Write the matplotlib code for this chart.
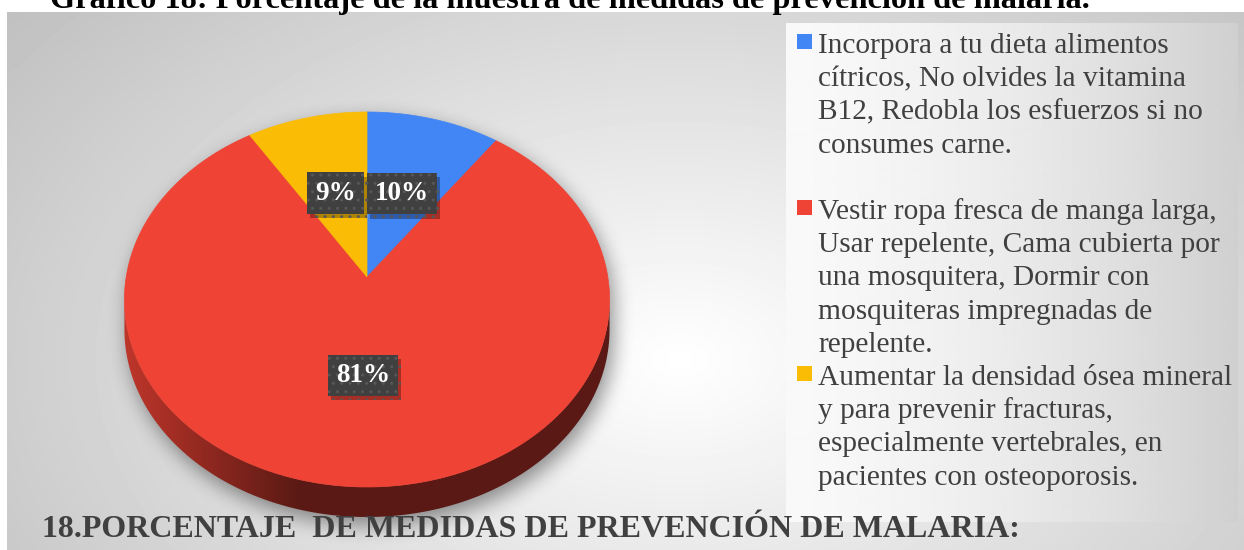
import numpy as np
import matplotlib.pyplot as plt
from matplotlib.patches import Polygon, Rectangle
from matplotlib import patheffects as pe

plt.rcParams['font.family'] = ['Liberation Serif', 'DejaVu Serif']

# datos del grafico
titulo = 'Gráfico 18: Porcentaje de la muestra de medidas de prevención de malaria.'
subtitulo = '18.PORCENTAJE  DE MEDIDAS DE PREVENCIÓN DE MALARIA:'
categorias = [
    'Incorpora a tu dieta alimentos\ncítricos, No olvides la vitamina\nB12, Redobla los esfuerzos si no\nconsumes carne.',
    'Vestir ropa fresca de manga larga,\nUsar repelente, Cama cubierta por\nuna mosquitera, Dormir con\nmosquiteras impregnadas de\nrepelente.',
    'Aumentar la densidad ósea mineral\ny para prevenir fracturas,\nespecialmente vertebrales, en\npacientes con osteoporosis.',
]
porcentajes = [10, 81, 9]
colores = ['#4285F4', '#EE4335', '#FBBC05']

W, H = 1244, 550
fig = plt.figure(figsize=(W / 100, H / 100), dpi=100)
ax = fig.add_axes([0, 0, 1, 1])

yy, xx = np.mgrid[0:H, 0:W] + 0.5

# fondo con degradado radial
d = np.sqrt(((xx - 680) / 800) ** 2 + ((yy - 360) / 520) ** 2)
fondo = 1 - 0.23 * np.clip(d, 0, 1.3)
fondo[(yy < 12) | (xx < 7)] = 1
ax.imshow(fondo, cmap='gray', vmin=0, vmax=1, extent=(0, W, H, 0), zorder=0,
          interpolation='bilinear')

# caja de la leyenda
t = np.linspace(0, 1, 452)
caja = np.tile(0.975 - 0.16 * t ** 1.5, (10, 1))
ax.imshow(caja, cmap='gray', vmin=0, vmax=1, extent=(786, 1238, 522, 23),
          zorder=0.5, aspect='auto', interpolation='bilinear')

# geometria del pastel en perspectiva
cx, cy = 367, 277
A, B, k = 240.8, -184.8, 0.12
grosor = 30


def proj(u, v):
    den = 1 + k * v
    return cx + A * u / den, cy + B * v / den


def dentro(X, Y):
    Xr, Yr = X - cx, Y - cy
    v = Yr / (B - k * Yr)
    u = Xr * (1 + k * v) / A
    return u ** 2 + v ** 2 <= 1


def desenfocar(a, r):
    for eje in (0, 1):
        for _ in range(3):
            a = np.swapaxes(a, 0, eje)
            p = np.pad(a, ((r + 1, r), (0, 0)), mode='edge')
            c = np.cumsum(p, axis=0)
            a = (c[2 * r + 1:] - c[:-2 * r - 1]) / (2 * r + 1)
            a = np.swapaxes(a, 0, eje)
    return a


# sombra
ox, oy = 4, 8
masc = np.zeros((H, W))
for s in np.linspace(0, grosor, 4):
    masc = np.maximum(masc, dentro(xx - ox, yy - oy - s))
sombra = desenfocar(masc, 9)
rgba = np.zeros((H, W, 4))
rgba[..., 3] = 0.42 * sombra
ax.imshow(rgba, extent=(0, W, H, 0), zorder=1)

frac = np.array(porcentajes) / sum(porcentajes)
bordes = 90 - 360 * np.concatenate([[0], np.cumsum(frac)])

# lateral visible
thL = 180 + np.degrees(np.arcsin(k))
thR = 360 - np.degrees(np.arcsin(k))
luz = 0.38 + 0.42 * np.clip((300 - xx) / 175, 0, 1)
for i in range(len(porcentajes)):
    lo, hi = min(bordes[i], bordes[i + 1]), max(bordes[i], bordes[i + 1])
    for sh in (-360, 0, 360):
        a, b = max(lo, thL + sh), min(hi, thR + sh)
        if a >= b:
            continue
        th = np.radians(np.linspace(a, b, 200))
        px, py = proj(np.cos(th), np.sin(th))
        pts = np.column_stack([np.r_[px, px[::-1]], np.r_[py, py[::-1] + grosor]])
        poly = Polygon(pts, closed=True, fc='none', ec='none', zorder=2)
        ax.add_patch(poly)
        base = np.array(plt.matplotlib.colors.to_rgb(colores[i]))
        img = luz[..., None] * base[None, None, :]
        im = ax.imshow(img, extent=(0, W, H, 0), zorder=2)
        im.set_clip_path(poly)

# cara superior
for i in range(len(porcentajes)):
    th = np.radians(np.linspace(bordes[i], bordes[i + 1], 300))
    px, py = proj(np.cos(th), np.sin(th))
    pts = np.column_stack([np.r_[cx, px], np.r_[cy, py]])
    ax.add_patch(Polygon(pts, closed=True, fc=colores[i], ec=colores[i], lw=0.5, zorder=3))

# etiquetas de porcentaje
for i, p in enumerate(porcentajes):
    m = np.radians((bordes[i] + bordes[i + 1]) / 2)
    lx, ly = proj(0.5 * np.cos(m), 0.5 * np.sin(m))
    txt = ax.text(lx, ly, f'{p}%', ha='center', va='center', fontsize=19.5,
                  fontweight='bold', color='white', zorder=5,
                  bbox=dict(boxstyle='square,pad=0.3', fc='#404040', ec='#575757',
                            lw=0, hatch='..'))
    txt.get_bbox_patch().set_path_effects(
        [pe.SimplePatchShadow(offset=(2, -3), shadow_rgbFace='black', alpha=0.3),
         pe.Normal()])

# leyenda
inicio = [0, 5, 10]
for i, lab in enumerate(categorias):
    for j, linea in enumerate(lab.split('\n')):
        yb = 53 + (inicio[i] + j) * 33.2
        if j == 0:
            ax.add_patch(Rectangle((797, yb - 19), 15, 15, fc=colores[i], ec='none', zorder=5))
        ax.text(818, yb, linea, ha='left', va='baseline', fontsize=21.2,
                color='#404040', zorder=5)

# textos
ax.text(50, 8, titulo, ha='left', va='baseline', fontsize=23.3,
        fontweight='bold', color='black', zorder=6)
ax.text(42, 537, subtitulo, ha='left', va='baseline', fontsize=23,
        fontweight='bold', color='#404040', zorder=6)

ax.set_xlim(0, W)
ax.set_ylim(H, 0)
ax.axis('off')
fig.savefig('out.png', dpi=100)
